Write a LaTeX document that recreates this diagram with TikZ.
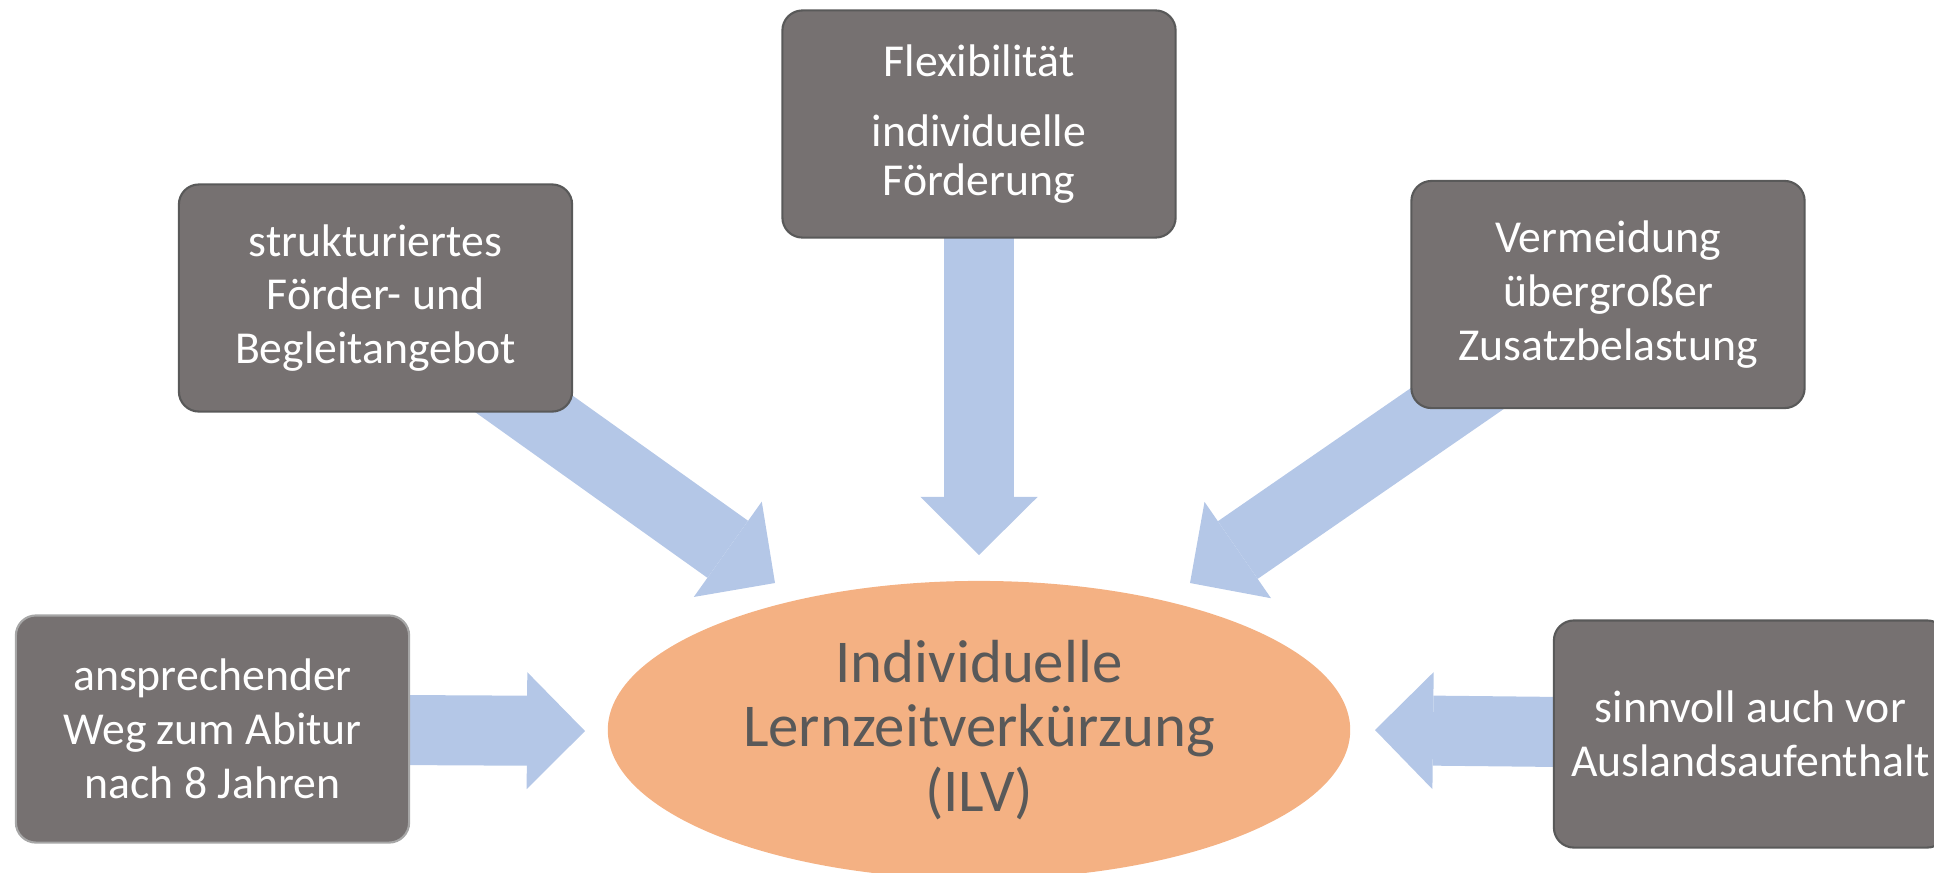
\documentclass[tikz,border=0pt]{standalone}
\usepackage{fontspec}
\setmainfont{Carlito}
\usetikzlibrary{shapes.geometric,arrows.meta,backgrounds}

\definecolor{boxgray}{HTML}{767171}
\definecolor{boxline}{HTML}{595959}
\definecolor{arrowblue}{HTML}{B4C7E7}
\definecolor{ilvorange}{HTML}{F4B183}
\definecolor{ilvtext}{HTML}{595959}

\begin{document}
\begin{tikzpicture}[x=0.01cm,y=-0.01cm,
  infobox/.style={draw=boxline, line width=0.6pt, fill=boxgray, rounded corners=0.2cm,
    minimum width=3.93cm, minimum height=2.27cm, text width=3.8cm, align=flush center,
    inner sep=0pt, text=white, font=\fontsize{13}{15.3}\selectfont},
  bigarrow/.style={arrowblue, line width=0.7cm,
    -{Triangle[width=1.17cm,length=0.58cm,line width=0pt]}}]

\useasboundingbox (0,0) rectangle (1934,872);
\clip (0,0) rectangle (1934,872);

\node[ellipse, fill=ilvorange, minimum width=7.42cm, minimum height=2.98cm, inner sep=0pt,
  align=flush center, text=ilvtext, font=\fontsize{17.3}{18.4}\selectfont] (ilv) at (979,730)
  {Individuelle\\Lernzeitverkürzung\\(ILV)};

\node[infobox] (foerd) at (979,124) {Flexibilität\\[0.16cm] individuelle\\[-0.05cm] Förderung};
\node[infobox] (struk) at (375.5,298) {strukturiertes\\Förder- und\\Begleitangebot};
\node[infobox] (vermeid) at (1608,294.5) {Vermeidung\\übergroßer\\Zusatzbelastung};
\node[infobox, draw=gray!70] (weg) at (212.5,729) {ansprechender\\Weg zum Abitur\\nach 8 Jahren};
\node[infobox] (ausland) at (1750.5,734) {sinnvoll auch vor\\Auslandsaufenthalt};

% arrow tips in front of the ellipse
\coordinate (tipT) at (979,555);
\coordinate (tipUL) at (775,583);
\coordinate (tipUR) at (1190,583);
\coordinate (tipBL) at (585,731);
\coordinate (tipBR) at (1375,730);

\begin{scope}[on background layer]
\draw[bigarrow] (foerd.center) -- (tipT);
\draw[bigarrow] (struk.center) -- (tipUL);
\draw[bigarrow] (vermeid.center) -- (tipUR);
\draw[bigarrow] (weg.center) -- (tipBL);
\draw[bigarrow] (ausland.center) -- (tipBR);
\end{scope}
\end{tikzpicture}
\end{document}
